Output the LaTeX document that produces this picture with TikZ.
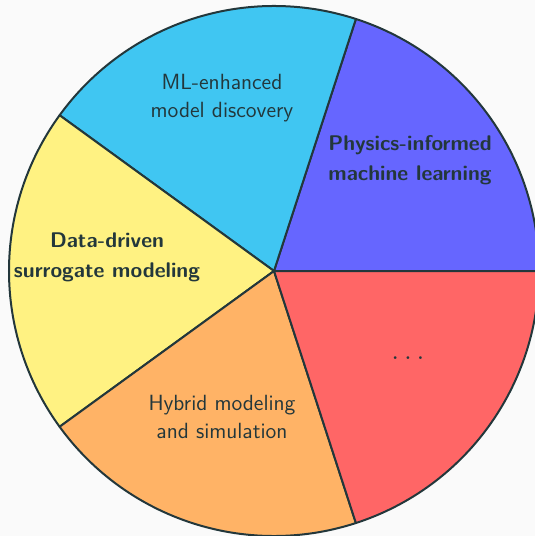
\documentclass[tikz,border=0pt]{standalone}
\usepackage{xcolor}
\usepackage{tikz}
\definecolor{darkteal}{HTML}{23373B}
\definecolor{paper}{HTML}{FAFAFA}
\definecolor{sliceviolet}{HTML}{6666FF}
\definecolor{slicecyan}{HTML}{40C6F2}
\definecolor{sliceyellow}{HTML}{FFF282}
\definecolor{sliceorange}{HTML}{FFB366}
\definecolor{slicered}{HTML}{FF6666}

\begin{document}
\begin{tikzpicture}[
        x=0.5pt, y=0.5pt,
        slice/.style = {draw=darkteal, line width=1pt, line join=round},
        slicelabel/.style = {text=darkteal, align=center, font=\sffamily\fontsize{11}{14}\selectfont},
        boldlabel/.style = {slicelabel, font=\sffamily\bfseries\fontsize{10.6}{15}\selectfont}
    ]

        % Page
        \useasboundingbox (-274,-265) rectangle (261,271);
        \fill[paper] (-274,-265) rectangle (261,271);
        \clip (-274,-265) rectangle (261,271);

        % Slices
        \foreach \a/\c in {0/sliceviolet, 72/slicecyan, 144/sliceyellow, 216/sliceorange, 288/slicered}
            \filldraw[slice, fill=\c] (0,0) -- (\a:265) arc[start angle=\a, delta angle=72, radius=265] -- cycle;

        % Labels
        \node (pinn) [boldlabel] at (136,111) {Physics-informed\\machine learning};
        \node (discovery) [slicelabel] at (-52,173) {ML-enhanced\\model discovery};
        \node (surrogate) [boldlabel] at (-167,14) {Data-driven\\surrogate modeling};
        \node (hybrid) [slicelabel] at (-52,-146) {Hybrid modeling\\and simulation};
        \node (more) [slicelabel, font=\fontsize{14}{14}\selectfont] at (134,-87) {$\ldots$};

    \end{tikzpicture}
\end{document}
